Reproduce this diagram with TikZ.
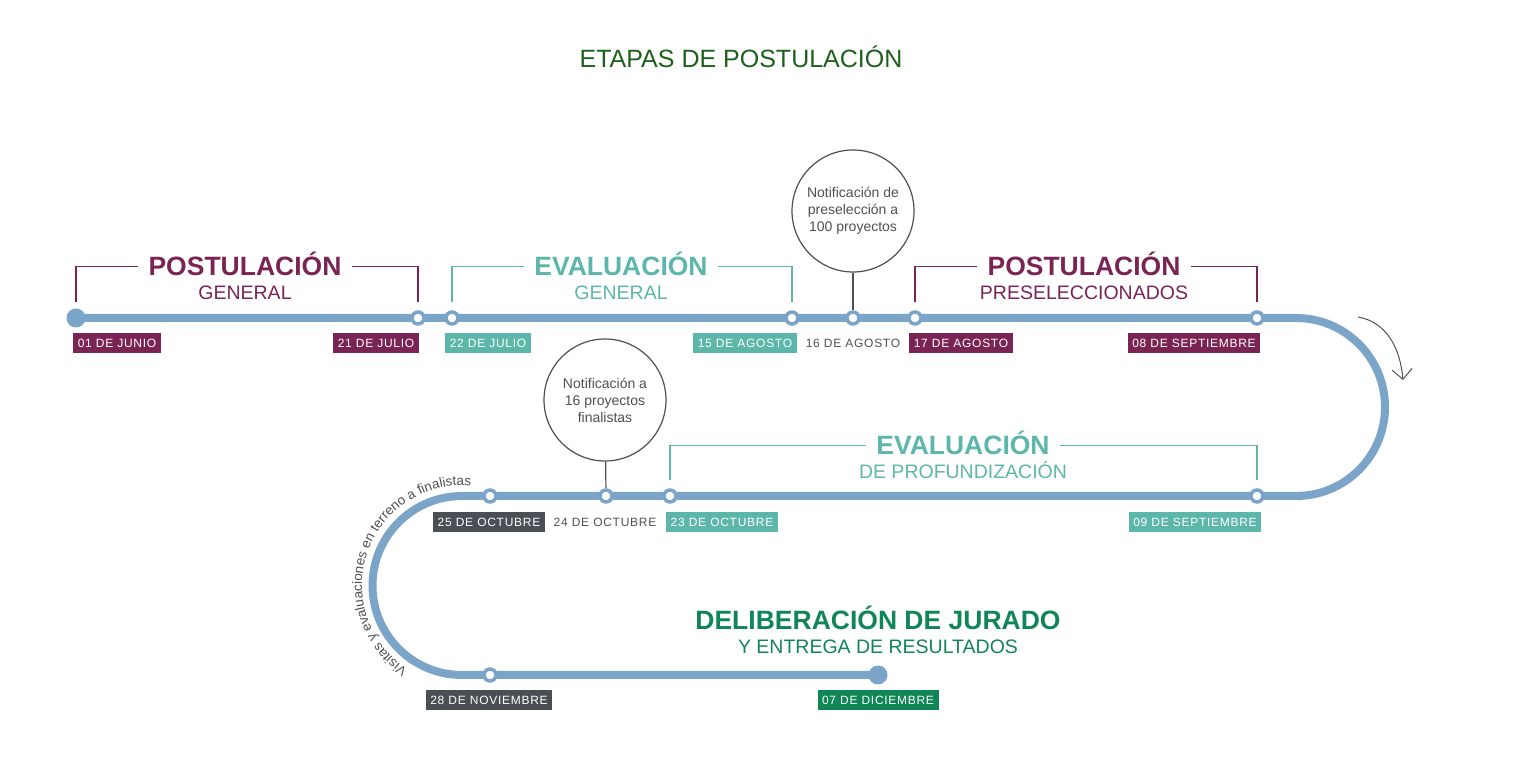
\documentclass[tikz,border=0pt]{standalone}
\usepackage{fontspec}
\setmainfont{Liberation Sans}
\newfontfamily\datefont[LetterSpace=6]{Liberation Sans}
\usetikzlibrary{arrows.meta, positioning, decorations.text}

\definecolor{trackblue}{RGB}{123,164,201}
\definecolor{plum}{RGB}{122,36,84}
\definecolor{seateal}{RGB}{92,183,170}
\definecolor{slate}{RGB}{74,79,85}
\definecolor{jurygreen}{RGB}{16,133,86}
\definecolor{titlegreen}{RGB}{28,96,28}
\definecolor{txtgray}{RGB}{80,80,80}

\begin{document}
\begin{tikzpicture}[x=1pt, y=1pt,
    track/.style={line width=8pt, draw=trackblue},
    dot/.style={circle, draw=trackblue, fill=white, line width=3.5pt, minimum size=12pt, inner sep=0pt},
    bigdot/.style={circle, fill=trackblue, minimum size=19pt, inner sep=0pt},
    datebox/.style={fill=#1, text=white, font=\datefont\fontsize{12}{14}\selectfont, text height=8.6pt, text depth=0pt, inner xsep=4.5pt, inner ysep=6pt},
    dateplain/.style={text=txtgray, font=\datefont\fontsize{12}{14}\selectfont, text height=8.6pt, text depth=0pt, inner xsep=4.5pt, inner ysep=6pt},
    stagetitle/.style={text=#1, font=\bfseries\fontsize{26.5}{30}\selectfont, text height=19pt, text depth=0pt, inner xsep=10pt, inner ysep=0pt},
    stagesub/.style={text=#1, font=\fontsize{19.5}{22}\selectfont, text height=14pt, text depth=0pt, inner sep=0pt},
    bracket/.style={draw=#1, line width=1.3pt},
    notice/.style={circle, draw=txtgray, fill=white, line width=1.2pt, minimum size=122pt, inner sep=0pt, align=center, text=txtgray, font=\fontsize{14}{17}\selectfont},
    stem/.style={draw=txtgray, line width=1.2pt},
    flowarrow/.style={draw=txtgray, line width=1pt, -{Straight Barb[length=10pt, width=20pt]}}
]
\useasboundingbox (0,0) rectangle (1533,776);

% title
\node[text=titlegreen, font=\fontsize{25}{30}\selectfont, text height=18pt, text depth=0pt, inner sep=0pt] (title) at (741,717) {ETAPAS DE POSTULACIÓN};

% track
\coordinate (start) at (76,458);
\coordinate (turnR) at (1296,458);
\coordinate (turnL) at (462,280);
\coordinate (finish) at (878,101);
\coordinate (loopL) at (462,190.5);
\draw[track] (start) -- (turnR) arc[start angle=90, end angle=-90, radius=89]
    -- (turnL) arc[start angle=90, end angle=270, radius=89.5] -- (finish);

% notices
\node[notice] (notifA) at (853,565) {Notificación de\\preselección a\\100 proyectos};
\node[notice] (notifB) at (605,376) {Notificación a\\16 proyectos\\finalistas};

% dots
\node[bigdot] (startdot) at (start) {};
\node[bigdot] (finishdot) at (finish) {};
\node[dot] (d21jul) at (418,458) {};
\node[dot] (d22jul) at (452,458) {};
\node[dot] (d15ago) at (792,458) {};
\node[dot] (d16ago) at (853,458) {};
\node[dot] (d17ago) at (915,458) {};
\node[dot] (d08sep) at (1257,458) {};
\node[dot] (d09sep) at (1257,280) {};
\node[dot] (d23oct) at (670,280) {};
\node[dot] (d24oct) at (606,280) {};
\node[dot] (d25oct) at (490,280) {};
\node[dot] (d28nov) at (490,101) {};

\draw[stem] (notifA) -- (d16ago);
\draw[stem] (notifB) -- (d24oct);

% dates
\node[datebox=plum] (l01jun) at (117,433) {01 DE JUNIO};
\node[datebox=plum] (l21jul) at (376,433) {21 DE JULIO};
\node[datebox=seateal] (l22jul) at (488,433) {22 DE JULIO};
\node[datebox=seateal] (l15ago) at (745,433) {15 DE AGOSTO};
\node[dateplain] (l16ago) at (853,433) {16 DE AGOSTO};
\node[datebox=plum] (l17ago) at (961,433) {17 DE AGOSTO};
\node[datebox=plum] (l08sep) at (1194,433) {08 DE SEPTIEMBRE};
\node[datebox=seateal] (l09sep) at (1195,254) {09 DE SEPTIEMBRE};
\node[datebox=seateal] (l23oct) at (722,254) {23 DE OCTUBRE};
\node[dateplain] (l24oct) at (605,254) {24 DE OCTUBRE};
\node[datebox=slate] (l25oct) at (489,254) {25 DE OCTUBRE};
\node[datebox=slate] (l28nov) at (489,76) {28 DE NOVIEMBRE};
\node[datebox=jurygreen] (l07dic) at (878,76) {07 DE DICIEMBRE};

% stages
\node[stagetitle=plum] (postA) at (245,509.5) {POSTULACIÓN};
\node[stagesub=plum, below=9pt of postA] (postB) {GENERAL};
\draw[bracket=plum] ([yshift=16pt]startdot.center) |- (postA.west);
\draw[bracket=plum] (postA.east) -| ([yshift=16pt]d21jul.center);

\node[stagetitle=seateal] (evalA) at (621,509.5) {EVALUACIÓN};
\node[stagesub=seateal, below=9pt of evalA] (evalB) {GENERAL};
\draw[bracket=seateal] ([yshift=16pt]d22jul.center) |- (evalA.west);
\draw[bracket=seateal] (evalA.east) -| ([yshift=16pt]d15ago.center);

\node[stagetitle=plum] (presA) at (1084,509.5) {POSTULACIÓN};
\node[stagesub=plum, below=9pt of presA] (presB) {PRESELECCIONADOS};
\draw[bracket=plum] ([yshift=16pt]d17ago.center) |- (presA.west);
\draw[bracket=plum] (presA.east) -| ([yshift=16pt]d08sep.center);

\node[stagetitle=seateal] (profA) at (963,330.5) {EVALUACIÓN};
\node[stagesub=seateal, below=9pt of profA] (profB) {DE PROFUNDIZACIÓN};
\draw[bracket=seateal] ([yshift=16pt]d23oct.center) |- (profA.west);
\draw[bracket=seateal] (profA.east) -| ([yshift=16pt]d09sep.center);

\node[stagetitle=jurygreen] (juryA) at (878,155.5) {DELIBERACIÓN DE JURADO};
\node[stagesub=jurygreen, below=9pt of juryA] (juryB) {Y ENTREGA DE RESULTADOS};

% visits along the loop
\path[decorate, decoration={text along path, text align=center,
    text={|\fontsize{13.5}{15}\selectfont\color{txtgray}|Visitas y evaluaciones en terreno a finalistas}}]
    ([shift={(242:100)}]loopL) arc[start angle=242, end angle=80, radius=100];

% direction
\coordinate (flowA) at (1358,459);
\coordinate (flowB) at (1403,396);
\draw[flowarrow] (flowA) to[out=-10, in=95] (flowB);
\end{tikzpicture}
\end{document}
